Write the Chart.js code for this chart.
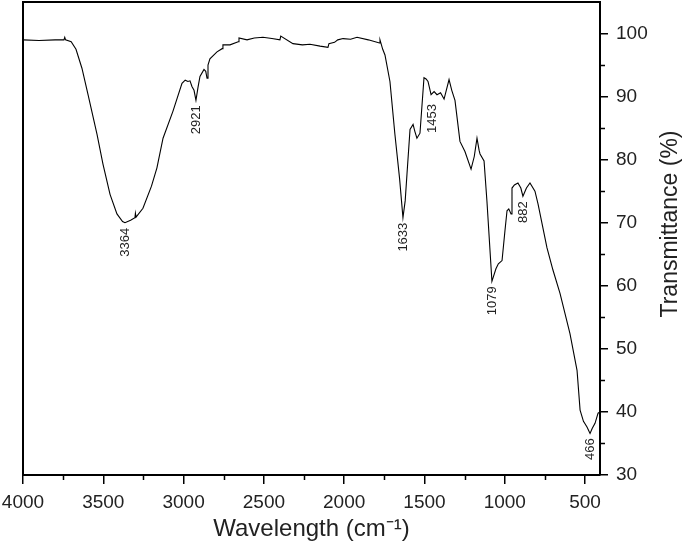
<!DOCTYPE html>
<html>
<head>
<meta charset="utf-8">
<script src="https://cdn.jsdelivr.net/npm/chart.js@4.4.1/dist/chart.umd.min.js"></script>
<style>
  body { margin: 0; background: #fff; }
</style>
</head>
<body>
<canvas id="ftir" width="685" height="550"></canvas>
<script>
// spectrum (cm-1, %T)
const wavenumber = [4000, 3900, 3800, 3745, 3740, 3735, 3700, 3670, 3633, 3595, 3539, 3502, 3458, 3415, 3380, 3365, 3330, 3303, 3300, 3296, 3253, 3200, 3166, 3128, 3066, 3010, 2990, 2973, 2960, 2948, 2935, 2923, 2910, 2898, 2873, 2862, 2854, 2848, 2836, 2792, 2760, 2755, 2711, 2660, 2655, 2605, 2560, 2506, 2450, 2400, 2395, 2319, 2260, 2213, 2150, 2101, 2095, 2060, 2040, 2007, 1960, 1920, 1850, 1780, 1777, 1760, 1746, 1715, 1684, 1655, 1634, 1620, 1609, 1590, 1571, 1560, 1547, 1528, 1503, 1490, 1478, 1459, 1440, 1422, 1400, 1378, 1347, 1330, 1310, 1279, 1248, 1210, 1190, 1173, 1160, 1154, 1129, 1111, 1080, 1055, 1040, 1017, 999, 986, 975, 961, 955, 940, 918, 900, 887, 865, 843, 812, 793, 737, 700, 656, 594, 550, 531, 510, 488, 469, 455, 438, 419, 407];
const transmittance = [99.0, 98.9, 99.0, 99.0, 99.4, 99.0, 98.7, 97.5, 94.5, 90.3, 84.0, 79.3, 74.5, 71.4, 70.2, 70.0, 70.4, 70.8, 71.5, 70.9, 72.3, 75.8, 78.7, 83.4, 87.7, 92.1, 92.6, 92.4, 92.5, 91.6, 91.0, 89.4, 91.5, 93.2, 94.3, 94.0, 92.9, 95.0, 96.0, 97.1, 97.6, 98.2, 98.2, 98.7, 99.3, 99.0, 99.3, 99.4, 99.2, 99.0, 99.6, 98.4, 98.2, 98.3, 98.0, 97.8, 98.4, 98.6, 99.0, 99.2, 99.1, 99.4, 99.0, 98.5, 99.0, 97.5, 96.6, 92.4, 84.0, 77.0, 70.8, 73.5, 77.7, 84.8, 85.6, 84.5, 83.4, 84.2, 93.0, 92.8, 92.4, 90.3, 90.8, 90.3, 90.6, 89.6, 92.7, 91.0, 89.4, 82.9, 81.3, 78.5, 80.5, 83.4, 81.5, 80.9, 79.8, 73.4, 60.7, 62.7, 63.5, 64.0, 68.7, 71.9, 72.2, 71.4, 75.5, 76.0, 76.3, 75.5, 74.2, 75.5, 76.3, 75.0, 73.0, 66.0, 62.5, 58.8, 52.4, 46.6, 40.3, 38.5, 37.6, 36.6, 37.4, 38.2, 39.8, 40.0];

const xTicks = [4000, 3500, 3000, 2500, 2000, 1500, 1000, 500];
const xMinor = [3750, 3250, 2750, 2250, 1750, 1250, 750];
const yTicks = [30, 40, 50, 60, 70, 80, 90, 100];
const yMinor = [35, 45, 55, 65, 75, 85, 95];

const peakLabels = ['3364', '2921', '1633', '1453', '1079', '882', '466'];
const peakWn = [3364, 2921, 1633, 1453, 1079, 882, 466];
const peakT = [70.0, 89.4, 70.8, 89.6, 60.7, 74.2, 36.6];

const FONT = "'Liberation Sans', Arial, sans-serif";
const INK = '#222';

let points = [];
for (let i = 0; i < wavenumber.length; i++) {
  points.push({ x: wavenumber[i], y: transmittance[i] });
}

// frame, minor ticks, peak labels and the two axis titles
const extras = {
  id: 'extras',
  afterDraw(chart) {
    const ctx = chart.ctx;
    const a = chart.chartArea;
    const xs = chart.scales.x;
    const ys = chart.scales.y;
    ctx.save();
    ctx.strokeStyle = '#000';
    ctx.lineWidth = 2;
    ctx.beginPath();
    ctx.moveTo(a.left, a.bottom);
    ctx.lineTo(a.left, a.top);
    ctx.lineTo(a.right, a.top);
    ctx.stroke();

    ctx.lineWidth = 1.5;
    ctx.beginPath();
    xMinor.forEach(v => {
      const px = Math.round(xs.getPixelForValue(v)) + 0.5;
      ctx.moveTo(px, a.bottom);
      ctx.lineTo(px, a.bottom + 5);
    });
    yMinor.forEach(v => {
      const py = Math.round(ys.getPixelForValue(v)) + 0.5;
      ctx.moveTo(a.right, py);
      ctx.lineTo(a.right + 5, py);
    });
    ctx.stroke();

    ctx.fillStyle = INK;
    ctx.font = '13px ' + FONT;
    ctx.textAlign = 'right';
    ctx.textBaseline = 'middle';
    for (let i = 0; i < peakLabels.length; i++) {
      const px = xs.getPixelForValue(peakWn[i]);
      const py = ys.getPixelForValue(peakT[i]);
      ctx.save();
      ctx.translate(px, py + 5);
      ctx.rotate(-Math.PI / 2);
      ctx.fillText(peakLabels[i], 0, 0);
      ctx.restore();
    }

    ctx.font = '24px ' + FONT;
    ctx.textAlign = 'center';
    ctx.textBaseline = 'middle';
    ctx.fillText('Wavelength (cm\u207B\u00B9)', (a.left + a.right) / 2, 529);

    ctx.font = '23px ' + FONT;
    ctx.save();
    ctx.translate(671, 224);
    ctx.rotate(-Math.PI / 2);
    ctx.fillText('Transmittance (%)', 0, 0);
    ctx.restore();
    ctx.restore();
  }
};

const ctx = document.getElementById('ftir');
const myChart = new Chart(ctx, {
  type: 'line',
  data: {
    datasets: [{
      data: points,
      borderColor: '#000',
      borderWidth: 1.1,
      pointRadius: 0,
      tension: 0,
      fill: false
    }]
  },
  options: {
    responsive: false,
    animation: false,
    layout: { padding: { left: 23, top: 2, right: 0, bottom: 0 } },
    plugins: { legend: { display: false }, tooltip: { enabled: false } },
    scales: {
      x: {
        type: 'linear',
        position: 'bottom',
        reverse: true,
        min: 407,
        max: 4000,
        afterBuildTicks: s => { s.ticks = xTicks.map(v => ({ value: v })); },
        afterFit: s => { s.height = 75; s.paddingLeft = 0; s.paddingRight = 0; },
        grid: { drawOnChartArea: false, drawTicks: true, tickLength: 9, color: '#000', lineWidth: 1.5 },
        border: { display: true, color: '#000', width: 2 },
        ticks: { color: INK, font: { family: FONT, size: 19 }, padding: 7, maxRotation: 0, autoSkip: false,
                 callback: v => String(v) }
      },
      y: {
        type: 'linear',
        position: 'right',
        min: 30,
        max: 105,
        afterBuildTicks: s => { s.ticks = yTicks.map(v => ({ value: v })); },
        afterFit: s => { s.width = 85; s.paddingTop = 0; s.paddingBottom = 0; },
        grid: { drawOnChartArea: false, drawTicks: true, tickLength: 8, color: '#000', lineWidth: 1.5 },
        border: { display: true, color: '#000', width: 2 },
        ticks: { color: INK, font: { family: FONT, size: 19 }, padding: 8, autoSkip: false,
                 callback: v => String(v) }
      }
    }
  },
  plugins: [extras]
});
</script>
</body>
</html>
